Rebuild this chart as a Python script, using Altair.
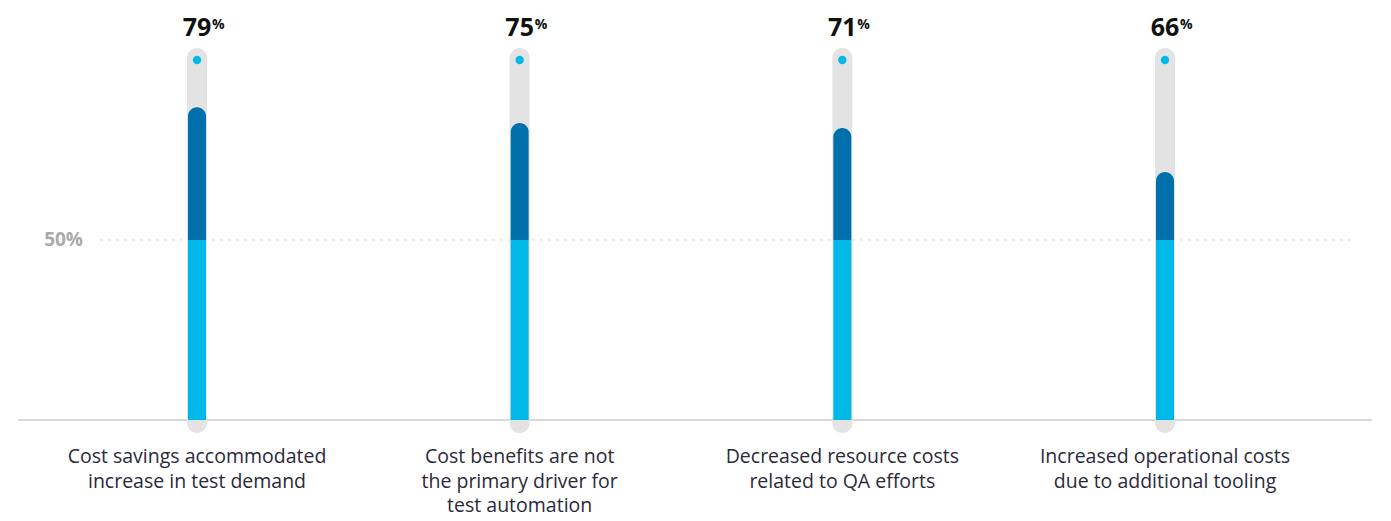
import altair as alt
import pandas as pd

categories = [
    "Cost savings accommodated\nincrease in test demand",
    "Cost benefits are not\nthe primary driver for\ntest automation",
    "Decreased resource costs\nrelated to QA efforts",
    "Increased operational costs\ndue to additional tooling",
]
label_values = [79, 75, 71, 66]
bar_values = [86.9, 82.5, 81.1, 68.9]

df = pd.DataFrame({
    "cat": categories,
    "label": [str(v) for v in label_values],
    "value": bar_values,
    "base": [0] * 4,
    "mid": [50] * 4,
    "top": [100] * 4,
})

W, H = 1375, 512
LIGHT = "#00b9e8"
DARK = "#0070ad"
TRACK = "#e3e3e3"

x = alt.X("cat:N", sort=categories, axis=None,
          scale=alt.Scale(type="point", range=[189, 1157], padding=0))
yscale = alt.Scale(domain=[-27.78, 114.44], nice=False, zero=False)

base = alt.Chart(df)

track = base.mark_bar(color=TRACK, size=20, cornerRadius=10).encode(
    x=x,
    y=alt.Y(datum=103.3, scale=yscale, axis=None),
    y2=alt.Y2(datum=-3.6),
)

light = base.mark_bar(color=LIGHT, size=18).encode(
    x=x,
    y=alt.Y("base:Q", scale=yscale, axis=None),
    y2="mid:Q",
)

dark = base.mark_bar(color=DARK, size=18, cornerRadiusTopLeft=9,
                     cornerRadiusTopRight=9).encode(
    x=x,
    y=alt.Y("value:Q", scale=yscale, axis=None),
    y2="mid:Q",
)

dot = base.mark_point(filled=True, color=LIGHT, size=70, opacity=1).encode(
    x=x,
    y=alt.Y("top:Q", scale=yscale, axis=None),
)

baseline = alt.Chart(pd.DataFrame({"v": [0]})).mark_rule(
    color="#cccccc", strokeWidth=1.5).encode(
    x=alt.value(10), x2=alt.value(1364),
    y=alt.Y("v:Q", scale=yscale, axis=None),
)

grid = alt.Chart(pd.DataFrame({"v": [50]})).mark_rule(
    color="#d6d6d6", strokeWidth=1, strokeDash=[3, 5]).encode(
    x=alt.value(92), x2=alt.value(1342),
    y=alt.Y("v:Q", scale=yscale, axis=None),
)

grid_label = alt.Chart(pd.DataFrame({"v": [50], "t": ["50%"]})).mark_text(
    align="right", baseline="middle", font="Open Sans", fontSize=19,
    fontWeight="bold", color="#aaaaaa").encode(
    x=alt.value(75),
    y=alt.Y("v:Q", scale=yscale, axis=None),
    text="t:N",
)

num = base.mark_text(align="center", baseline="alphabetic", font="Open Sans",
                     fontSize=25, fontWeight="bold", color="#111111").encode(
    x=x, y=alt.value(28), text="label:N",
)

pct = base.mark_text(align="left", baseline="alphabetic", font="Open Sans",
                     fontSize=14, fontWeight="bold", color="#111111",
                     dx=15).encode(
    x=x, y=alt.value(21), text=alt.value("%"),
)

cat_text = base.mark_text(align="center", baseline="alphabetic", font="Open Sans",
                          fontSize=19.5, lineHeight=24.5, lineBreak="\n",
                          color="#2a2a3a").encode(
    x=x, y=alt.value(455), text="cat:N",
)

chart = alt.layer(
    grid, baseline, track, light, dark, dot, grid_label, num, pct, cat_text
).properties(
    width=W, height=H, padding=0, autosize=alt.AutoSizeParams(type="none")
).configure_view(stroke=None)

chart.save("out.html", embed_options={"renderer": "svg", "actions": False})
